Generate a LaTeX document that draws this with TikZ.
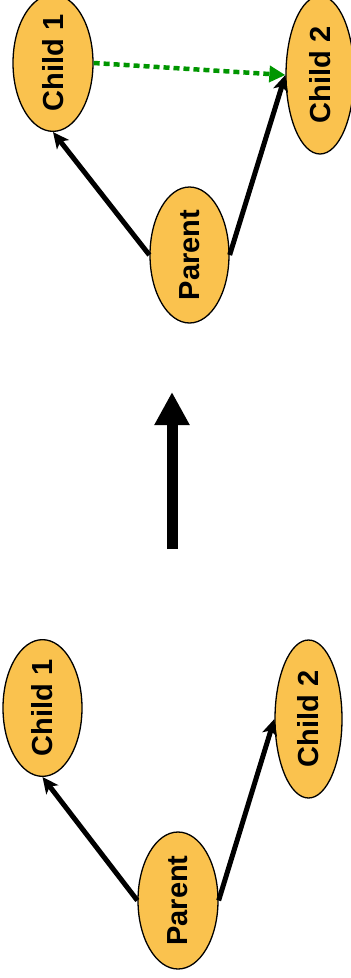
\documentclass[tikz,border=0pt]{standalone}
\usepackage{fontspec}
\setmainfont{Liberation Sans}
\usetikzlibrary{shapes.geometric,arrows.meta}
\definecolor{nodefill}{RGB}{250,194,78}
\definecolor{dotgreen}{RGB}{0,150,0}
\tikzset{
  bubble/.style={ellipse, draw=black, line width=1.3pt, fill=nodefill, inner sep=0pt,
    font=\fontsize{29pt}{31pt}\selectfont\bfseries},
  tree/.style={line width=5pt, -{Stealth[length=16pt,width=15pt,inset=4pt]}},
  later/.style={dotgreen, line width=4.5pt, dash pattern=on 6pt off 4pt,
    -{Triangle[length=16pt,width=16pt]}},
}
\newcommand{\vtext}[1]{\rotatebox{90}{#1}}
\begin{document}
\begin{tikzpicture}[x=1pt,y=-1pt]
\useasboundingbox (0,0) rectangle (351,978);
% top group
\node[bubble, minimum width=80pt, minimum height=134pt] (c1t) at (53,63) {\vtext{Child 1}};
\node[bubble, minimum width=68pt, minimum height=158pt] (c2t) at (320,75) {\vtext{Child 2}};
\node[bubble, minimum width=79pt, minimum height=136pt] (pt) at (189.5,255) {\vtext{Parent}};
\draw[tree] (pt.west) -- (c1t.south);
\draw[tree] (pt.east) -- (c2t.west);
\draw[later] (c1t.east) -- (c2t.west);
% big arrow
\coordinate (bigfrom) at (172,549);
\coordinate (bigto) at (172,392);
\draw[line width=11pt, -{Triangle[length=33pt,width=33pt]}] (bigfrom) -- (bigto);
% bottom group
\node[bubble, minimum width=79pt, minimum height=136pt] (c1b) at (42.5,708) {\vtext{Child 1}};
\node[bubble, minimum width=67pt, minimum height=158pt] (c2b) at (308.5,719) {\vtext{Child 2}};
\node[bubble, minimum width=80pt, minimum height=137pt] (pb) at (178,900.5) {\vtext{Parent}};
\draw[tree] (pb.west) -- (c1b.south);
\draw[tree] (pb.east) -- (c2b.west);
\end{tikzpicture}
\end{document}
